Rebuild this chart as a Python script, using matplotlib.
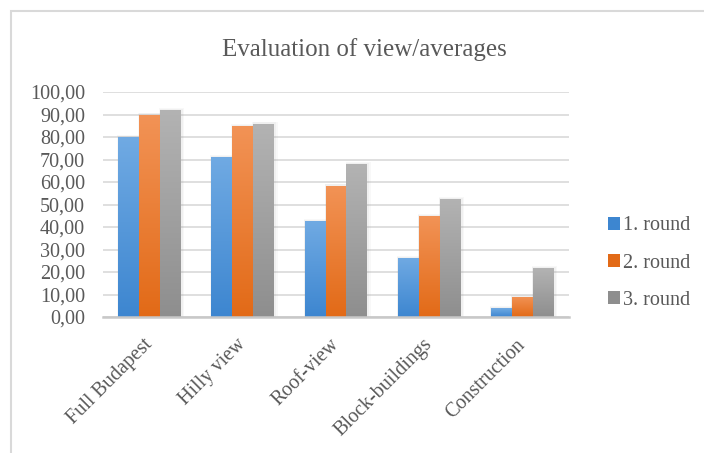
import numpy as np
import matplotlib
matplotlib.use('Agg')
import matplotlib.pyplot as plt
from matplotlib.patches import Rectangle
from matplotlib.colors import LinearSegmentedColormap

categories = ['Full Budapest', 'Hilly view', 'Roof-view', 'Block-buildings', 'Construction']
round1 = [80.0, 71.2, 42.6, 26.3, 3.8]
round2 = [90.0, 85.0, 58.4, 44.8, 9.0]
round3 = [92.1, 86.0, 67.8, 52.6, 21.6]
series_names = ['1. round', '2. round', '3. round']
yticks = [0, 10, 20, 30, 40, 50, 60, 70, 80, 90, 100]

# top colour, bottom colour of each series gradient
grads = [('#70aae3', '#3d86d0'), ('#f29356', '#e26a17'), ('#b3b3b3', '#8e8e8e')]

plt.rcParams['font.family'] = ['Liberation Serif', 'DejaVu Serif']
txt = '#595959'

fig = plt.figure(figsize=(7.04, 4.53), dpi=100)
ax = fig.add_axes([103 / 704, 136 / 453, 466 / 704, 225 / 453])

# chart frame
fig.patches.append(Rectangle((11 / 704, -0.1), 1.2, (453 - 11) / 453 + 0.1,
                             transform=fig.transFigure, fill=False,
                             edgecolor='#d9d9d9', lw=1.5, zorder=0))

x = np.arange(len(categories))
w = 0.225
for k, vals in enumerate([round1, round2, round3]):
    cmap = LinearSegmentedColormap.from_list('g%d' % k, [grads[k][1], grads[k][0]])
    bars = ax.bar(x + (k - 1) * w, vals, w, color=grads[k][1], zorder=3, label=series_names[k])
    for b in bars:
        bx, by = b.get_x(), b.get_y()
        bw, bh = b.get_width(), b.get_height()
        # soft shadow
        for s, a in [(0.035, 0.05), (0.02, 0.07)]:
            ax.add_patch(Rectangle((bx - s * 0.3, by), bw + s * 1.3, bh + s * 25,
                                   color='#888888', alpha=a, lw=0, zorder=2))
        grad = np.linspace(0, 1, 256).reshape(-1, 1)
        im = ax.imshow(grad, cmap=cmap, origin='lower', aspect='auto',
                       extent=(bx, bx + bw, by, by + bh), zorder=4)
        im.set_clip_path(b)

ax.set_xlim(-0.5, len(categories) - 0.5)
ax.set_ylim(0, 100)
ax.set_yticks(yticks)
ax.set_yticklabels(['%d,00' % v for v in yticks])
ax.set_xticks(x)
ax.set_xticklabels(categories, rotation=45, ha='right', va='center', rotation_mode='anchor')
ax.tick_params(axis='y', length=0, pad=13, labelsize=14.5, labelcolor=txt)
ax.tick_params(axis='x', length=0, pad=18, labelsize=14.5, labelcolor=txt)
ax.grid(axis='y', color='#d9d9d9', lw=1.2, zorder=0)
for sp in ['top', 'right', 'left']:
    ax.spines[sp].set_visible(False)
ax.spines['bottom'].set_color('#c8c8c8')
ax.spines['bottom'].set_linewidth(1.8)
ax.spines['bottom'].set_zorder(5)

fig.text(364 / 704, 1 - 50 / 453, 'Evaluation of view/averages', ha='center', va='center',
         fontsize=18, color=txt)

leg = fig.legend(loc='center left', bbox_to_anchor=(590 / 704, 190 / 453), frameon=False,
                 fontsize=14.5, labelcolor=txt, handlelength=0.6, handleheight=0.6,
                 handletextpad=0.15, labelspacing=0.9)

fig.savefig('out.png', dpi=100)
